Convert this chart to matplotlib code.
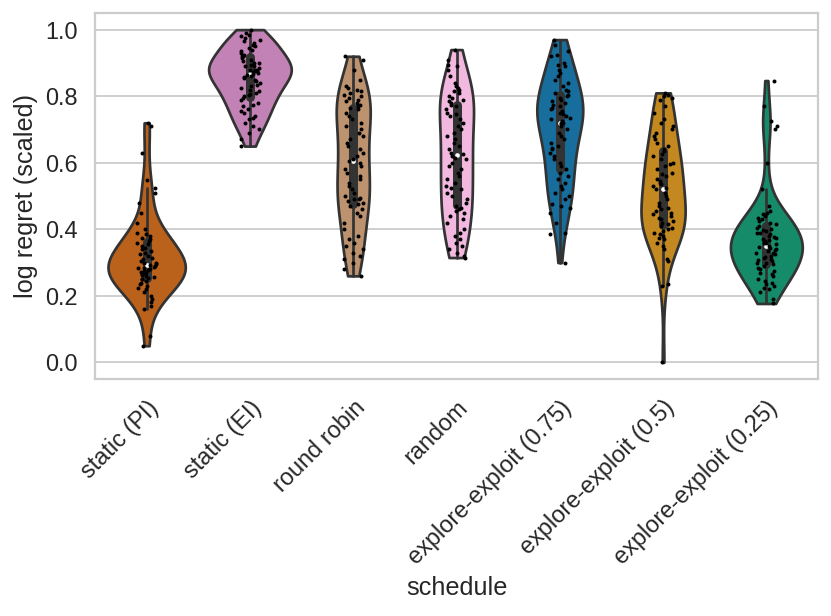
import numpy as np
import pandas as pd
import matplotlib
matplotlib.use("Agg")
import matplotlib.pyplot as plt
import seaborn as sns

schedules = ["static (PI)", "static (EI)", "round robin", "random",
             "explore-exploit (0.75)", "explore-exploit (0.5)", "explore-exploit (0.25)"]

static_pi = [0.72, 0.71, 0.63, 0.547, 0.525, 0.51, 0.48, 0.45, 0.42, 0.40, 0.39, 0.385, 0.38, 0.375, 0.37, 0.365, 0.36,
             0.355, 0.35, 0.345, 0.34, 0.335, 0.33, 0.325, 0.32, 0.315, 0.31, 0.305, 0.30, 0.298, 0.295, 0.293, 0.29,
             0.288, 0.285, 0.283, 0.28, 0.278, 0.275, 0.272, 0.27, 0.268, 0.265, 0.262, 0.26, 0.258, 0.255, 0.252, 0.25,
             0.245, 0.24, 0.235, 0.23, 0.225, 0.22, 0.21, 0.20, 0.19, 0.18, 0.17, 0.16, 0.08, 0.05]

static_ei = [1.00, 0.99, 0.985, 0.98, 0.975, 0.97, 0.965, 0.96, 0.955, 0.95, 0.945, 0.94, 0.935, 0.93, 0.925, 0.92, 0.92, 0.915,
             0.91, 0.905, 0.90, 0.90, 0.895, 0.89, 0.89, 0.885, 0.88, 0.88, 0.878, 0.876,
             0.875, 0.872, 0.87, 0.868, 0.865, 0.86, 0.858, 0.855, 0.85, 0.845, 0.84, 0.835,
             0.83, 0.825, 0.82, 0.815, 0.81, 0.808, 0.805, 0.80,
             0.795, 0.79, 0.78, 0.775, 0.77, 0.76, 0.755, 0.75, 0.74, 0.735, 0.73, 0.72, 0.71, 0.70, 0.69, 0.67, 0.65]

round_robin = [0.92, 0.91, 0.88, 0.85,
               0.83, 0.825, 0.82, 0.815, 0.81, 0.805, 0.80, 0.795, 0.79, 0.785, 0.78, 0.775, 0.77,
               0.765, 0.76,
               0.75, 0.74, 0.73, 0.72, 0.71, 0.70, 0.69, 0.68, 0.67, 0.66, 0.65, 0.64, 0.63, 0.62,
               0.61, 0.605,
               0.60, 0.59, 0.58, 0.57, 0.56, 0.55, 0.54, 0.53, 0.52, 0.51, 0.50, 0.495, 0.49, 0.49, 0.485, 0.48, 0.475, 0.47,
               0.46, 0.45, 0.44, 0.42, 0.40, 0.38, 0.37, 0.36, 0.35, 0.34, 0.33, 0.32, 0.31, 0.30, 0.28, 0.26]

random_sched = [0.94, 0.91, 0.895, 0.89, 0.88, 0.86, 0.84, 0.83, 0.825, 0.82, 0.815, 0.81, 0.80, 0.795, 0.79, 0.785, 0.78, 0.775,
                0.77, 0.76, 0.75, 0.745, 0.74, 0.73, 0.72, 0.71, 0.70, 0.69, 0.68, 0.67, 0.66, 0.65, 0.64, 0.63, 0.625,
                0.62, 0.615, 0.61, 0.60, 0.59, 0.58, 0.57, 0.56, 0.55, 0.54, 0.53, 0.525, 0.52, 0.51, 0.50, 0.49, 0.48,
                0.47, 0.465, 0.46, 0.455, 0.45, 0.44, 0.43, 0.42, 0.40, 0.39, 0.38, 0.37, 0.36, 0.35, 0.34, 0.33, 0.32, 0.315]

ee_075 = [0.97, 0.955, 0.935, 0.925, 0.92, 0.90, 0.895, 0.89, 0.88, 0.87, 0.86, 0.85, 0.84, 0.83,
          0.82, 0.815, 0.81, 0.805, 0.80, 0.795, 0.79, 0.785, 0.78, 0.775, 0.77, 0.765, 0.76, 0.755, 0.75, 0.745,
          0.74, 0.735, 0.73, 0.725, 0.72, 0.72,
          0.715, 0.71, 0.70, 0.69, 0.68, 0.67, 0.66, 0.65, 0.645, 0.64, 0.63, 0.62, 0.61, 0.60, 0.59, 0.58,
          0.57, 0.56, 0.55, 0.54, 0.53, 0.52, 0.51, 0.50, 0.49, 0.475, 0.47, 0.465, 0.45, 0.42, 0.39, 0.385, 0.30]

ee_05 = [0.81, 0.805, 0.80, 0.795, 0.79, 0.77, 0.75, 0.73, 0.72, 0.71, 0.70, 0.69, 0.68, 0.67, 0.66, 0.65, 0.64, 0.635,
         0.625, 0.62, 0.61, 0.60, 0.595, 0.59, 0.58, 0.57, 0.565, 0.56, 0.55, 0.545, 0.54, 0.535, 0.53, 0.525, 0.52,
         0.51, 0.50, 0.49, 0.48, 0.47, 0.465, 0.46, 0.455, 0.45, 0.445, 0.44, 0.435, 0.43, 0.425, 0.42, 0.415, 0.41,
         0.405, 0.40, 0.395, 0.39, 0.385, 0.38, 0.375, 0.37, 0.36, 0.35, 0.34, 0.31, 0.305, 0.235, 0.23, 0.0]

ee_025 = [0.847, 0.77, 0.725, 0.71, 0.70, 0.60, 0.52, 0.47, 0.455, 0.45, 0.445, 0.44, 0.435, 0.43, 0.425, 0.42, 0.415, 0.41,
          0.405, 0.40, 0.398, 0.395, 0.39, 0.388, 0.385, 0.38, 0.378, 0.375, 0.37, 0.368, 0.365, 0.36, 0.358, 0.355, 0.35,
          0.348, 0.345, 0.34, 0.338, 0.335, 0.33, 0.328, 0.325, 0.32, 0.318, 0.315, 0.31, 0.308, 0.305, 0.30, 0.298, 0.295,
          0.29, 0.285, 0.28, 0.275, 0.27, 0.265, 0.26, 0.25, 0.245, 0.24, 0.235, 0.23, 0.225, 0.22, 0.21, 0.19, 0.177]

groups = [static_pi, static_ei, round_robin, random_sched, ee_075, ee_05, ee_025]

# colorblind palette, picked per schedule
cb = sns.color_palette("colorblind")
colors = [cb[3], cb[4], cb[5], cb[6], cb[0], cb[1], cb[2]]

rows = []
for name, vals in zip(schedules, groups):
    for v in vals:
        rows.append((name, v))
df = pd.DataFrame(rows, columns=["schedule", "log regret (scaled)"])

sns.set_theme(style="whitegrid")
plt.rcParams["font.family"] = ["Liberation Sans", "DejaVu Sans"]
np.random.seed(3)

fig = plt.figure(figsize=(831 / 130, 616 / 130), dpi=130)
ax = fig.add_axes([95 / 831, 1 - 379 / 616, (818 - 95) / 831, (379 - 13) / 616])

sns.violinplot(data=df, x="schedule", y="log regret (scaled)", hue="schedule",
               order=schedules, hue_order=schedules, palette=colors,
               cut=0, inner="box", common_norm=True, linewidth=1.5, linecolor="0.2",
               inner_kws=dict(box_width=5, whis_width=1.5, marker="o", solid_capstyle="round"),
               legend=False, ax=ax)
# shrink the median dots
for ln in ax.lines:
    if ln.get_marker() == "o":
        ln.set_markersize(2.6)
        ln.set_markerfacecolor("white")
        ln.set_markeredgewidth(0)

sns.stripplot(data=df, x="schedule", y="log regret (scaled)", order=schedules,
              color="black", size=2.2, ax=ax)

ax.set_xlim(-0.5, 6.5)
ax.set_ylim(-0.05, 1.05)
ax.tick_params(axis="both", labelsize=13)
plt.setp(ax.get_xticklabels(), rotation=45, ha="right", rotation_mode="anchor")
ax.set_xlabel("schedule", fontsize=14)
ax.set_ylabel("log regret (scaled)", fontsize=14)

fig.savefig("out.png", dpi=130)
